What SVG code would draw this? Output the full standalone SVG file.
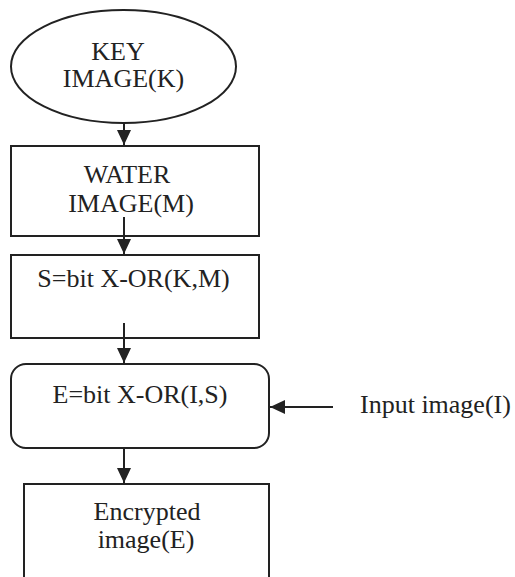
<svg xmlns="http://www.w3.org/2000/svg" width="515" height="577" viewBox="0 0 515 577">
  <style>
    .shape { fill: #ffffff; stroke: #222222; stroke-width: 2; }
    .label { font-family: "Liberation Serif", "Times New Roman", serif; font-size: 26px; fill: #222222; }
    .wire { stroke: #222222; stroke-width: 2; fill: none; }
  </style>
  <defs>
    <marker id="arrow" viewBox="0 0 15 14" refX="15" refY="7" markerWidth="15" markerHeight="14" markerUnits="userSpaceOnUse" orient="auto">
      <path d="M0,0 L15,7 L0,14 Z" fill="#222222"/>
    </marker>
  </defs>
  <rect width="515" height="577" fill="#ffffff"/>

  <g id="key-image">
    <ellipse class="shape" cx="123.5" cy="66.5" rx="112.5" ry="56.5"/>
    <text class="label" x="118" y="60" text-anchor="middle">KEY</text>
    <text class="label" x="123.5" y="87" text-anchor="middle">IMAGE(K)</text>
  </g>

  <g id="water-image">
    <rect class="shape" x="11" y="146" width="248" height="90"/>
    <text class="label" x="127" y="183" text-anchor="middle">WATER</text>
    <text class="label" x="131" y="212" text-anchor="middle">IMAGE(M)</text>
  </g>

  <g id="xor-km">
    <rect class="shape" x="11" y="255" width="248" height="83"/>
    <text class="label" x="133.5" y="287" text-anchor="middle">S=bit X-OR(K,M)</text>
  </g>

  <g id="xor-is">
    <rect class="shape" x="11" y="364" width="258" height="84" rx="15" ry="15"/>
    <text class="label" x="140" y="403" text-anchor="middle">E=bit X-OR(I,S)</text>
  </g>

  <g id="encrypted-image">
    <path class="shape" d="M24,590 L24,484 L269,484 L269,590"/>
    <text class="label" x="147" y="520" text-anchor="middle">Encrypted</text>
    <text class="label" x="146" y="548" text-anchor="middle">image(E)</text>
  </g>

  <g id="input-image">
    <text class="label" x="360" y="413">Input image(I)</text>
  </g>

  <g id="connectors">
    <line class="wire" x1="124" y1="123" x2="124" y2="145" marker-end="url(#arrow)"/>
    <line class="wire" x1="124" y1="217" x2="124" y2="254" marker-end="url(#arrow)"/>
    <line class="wire" x1="124" y1="323" x2="124" y2="363" marker-end="url(#arrow)"/>
    <line class="wire" x1="124" y1="448" x2="124" y2="483" marker-end="url(#arrow)"/>
    <line class="wire" x1="333" y1="407" x2="270" y2="407" marker-end="url(#arrow)"/>
  </g>
</svg>
